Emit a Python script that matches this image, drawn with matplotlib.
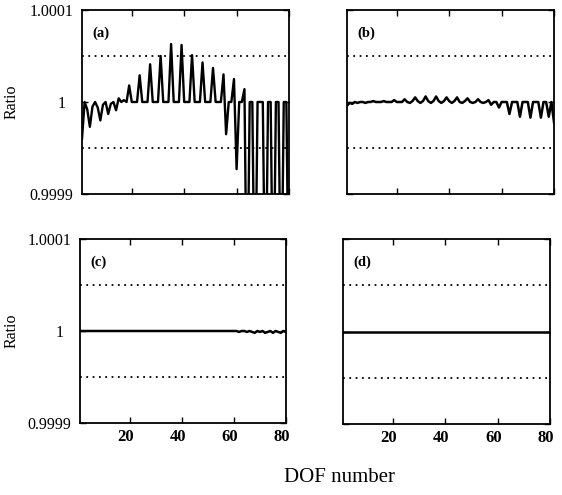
import numpy as np
import matplotlib
matplotlib.use("Agg")
import matplotlib.pyplot as plt
from matplotlib.transforms import ScaledTranslation

plt.rcParams['font.family'] = ['Liberation Serif', 'DejaVu Serif']

# DOF numbers
dof = np.arange(1, 81)

# deviation of the ratio from 1, in units of 1e-4
dev_a = [-0.40, 0.00, -0.08, -0.27, -0.05, 0.00, -0.06, -0.20, -0.03, 0.00,
         -0.13, -0.02, 0.00, -0.09, 0.04, 0.00, 0.02, 0.00, 0.18, 0.00,
         0.00, 0.00, 0.29, 0.00, 0.00, 0.00, 0.41, 0.00, 0.00, 0.00,
         0.50, 0.00, 0.00, 0.00, 0.63, 0.00, 0.00, 0.00, 0.62, 0.00,
         0.00, 0.00, 0.51, 0.00, 0.00, 0.00, 0.43, 0.00, 0.00, 0.00,
         0.37, 0.00, 0.00, 0.00, 0.30, -0.35, 0.00, 0.00, 0.25, -0.73,
         0.00, 0.00, 0.14, -2.50, 0.00, 0.00, -2.50, 0.00, 0.00, 0.00,
         -2.50, 0.00, 0.00, -2.50, 0.00, 0.00, -2.50, 0.00, 0.00, -2.50]

dev_b = [-0.04, -0.01, -0.02, 0.00, -0.01, 0.00, 0.00, -0.01, 0.00, 0.00,
         0.01, 0.00, 0.00, 0.00, 0.01, 0.00, 0.00, 0.00, 0.02, 0.00,
         0.00, 0.00, 0.03, 0.00, -0.01, 0.01, 0.05, 0.01, -0.01, 0.01,
         0.06, 0.01, -0.01, 0.01, 0.06, 0.01, -0.01, 0.01, 0.05, 0.01,
         -0.01, 0.01, 0.05, 0.00, -0.01, 0.01, 0.04, 0.00, -0.01, 0.00,
         0.03, 0.00, -0.01, 0.00, 0.02, -0.03, 0.00, 0.00, -0.06, 0.00,
         0.00, 0.00, -0.13, 0.00, 0.00, 0.00, -0.16, 0.00, 0.00, 0.00,
         -0.17, 0.00, 0.00, 0.00, -0.17, 0.00, 0.00, -0.16, 0.00, -0.22]

dev_c = [0.00] * 60 + [0.00, -0.01, 0.00, 0.00, -0.01, 0.00, -0.01, -0.02, 0.00, -0.01,
                       0.00, -0.02, -0.01, 0.00, -0.02, 0.00, -0.01, -0.02, 0.00, -0.01]

dev_d = [0.00] * 80

panels = ["(a)", "(b)", "(c)", "(d)"]
ytick_vals = [0.9999, 1.0, 1.0001]
ytick_labels = ["0.9999", "1", "1.0001"]
xtick_vals = [20, 40, 60, 80]

W, H = 562, 495
fig = plt.figure(figsize=(W / 100, H / 100), dpi=100)

# axes boxes in pixels: left, top, right, bottom
boxes = [(82, 10, 289, 194), (347, 10, 554, 194),
         (80, 239, 286, 423), (343, 239, 550, 424)]

series = [dev_a, dev_b, dev_c, dev_d]
widths = [1.7, 1.8, 1.8, 1.8]

for i, (box, dev, lab) in enumerate(zip(boxes, series, panels)):
    l, t, r, b = box
    ax = fig.add_axes([l / W, 1 - b / H, (r - l) / W, (b - t) / H])
    ratio = 1 + np.array(dev) * 1e-4
    ax.plot(dof, ratio, color='black', lw=widths[i])
    for yy in (1.00005, 0.99995):
        ax.axhline(yy, color='black', lw=1.3, linestyle=(0, (1, 2.5)))
    ax.set_xlim(1, 80)
    ax.set_ylim(0.9999, 1.0001)
    ax.set_xticks(xtick_vals)
    ax.set_yticks(ytick_vals)
    ax.tick_params(direction='in', top=True, right=True, length=4, width=1)
    for s in ax.spines.values():
        s.set_linewidth(1.3)
    if i % 2 == 0:
        ax.set_yticklabels(ytick_labels, fontsize=11.5)
        ax.tick_params(axis='y', pad=6)
        # the "1" label sits a little to the left in the original
        lbl = ax.get_yticklabels()[1]
        lbl.set_transform(lbl.get_transform() + ScaledTranslation(-8 / 100, 0, fig.dpi_scale_trans))
        ax.set_ylabel("Ratio", fontsize=11.5)
        ax.yaxis.set_label_coords((20 - l) / (r - l), 0.5)
    else:
        ax.set_yticklabels([])
    if i >= 2:
        ax.set_xticklabels([str(v) for v in xtick_vals], fontsize=12, fontweight='bold')
        ax.tick_params(axis='x', pad=4)
        for lbl in ax.get_xticklabels():
            lbl.set_transform(lbl.get_transform() + ScaledTranslation(-4 / 100, 0, fig.dpi_scale_trans))
    else:
        ax.set_xticklabels([])
    ax.text(0.05, 0.875, lab, transform=ax.transAxes, fontsize=10.5,
            fontweight='bold', ha='left', va='center')

fig.text(340 / W, 1 - 478 / H, "DOF number", fontsize=15, ha='center', va='center')

fig.savefig("out.png", dpi=100)
